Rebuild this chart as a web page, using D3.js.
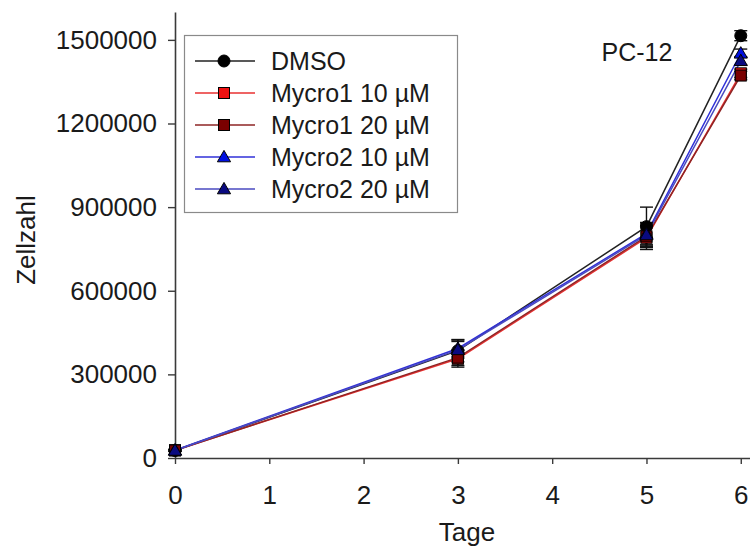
<!DOCTYPE html>
<html>
<head>
<meta charset="utf-8">
<script src="https://cdn.jsdelivr.net/npm/d3@7"></script>
<style>
  html, body { margin: 0; padding: 0; background: #fff; }
  svg { display: block; font-family: "Liberation Sans", Arial, sans-serif; }
</style>
</head>
<body>
<svg id="chart" width="750" height="549"></svg>
<script>
// Days of culture
const days = [0, 3, 5, 6];

// Cell counts per condition (mean) and standard deviation
const dmso      = [27000, 385000, 830000, 1515000];
const dmsoErr   = [3000, 40000, 70000, 18000];
const m1c10     = [28000, 356000, 790000, 1380000];
const m1c10Err  = [3000, 30000, 42000, 15000];
const m1c20     = [27000, 360000, 795000, 1372000];
const m1c20Err  = [3000, 28000, 40000, 15000];
const m2c10     = [28000, 393000, 805000, 1452000];
const m2c10Err  = [3000, 30000, 40000, 15000];
const m2c20     = [27000, 388000, 800000, 1425000];
const m2c20Err  = [3000, 30000, 40000, 15000];

const seriesNames = ["DMSO", "Mycro1 10 µM", "Mycro1 20 µM", "Mycro2 10 µM", "Mycro2 20 µM"];
const yTicks = [0, 300000, 600000, 900000, 1200000, 1500000];
const xTicks = [0, 1, 2, 3, 4, 5, 6];

const series = [
  { name: seriesNames[0], values: dmso,  err: dmsoErr,  line: "#222222", fill: "#000000", shape: "circle" },
  { name: seriesNames[1], values: m1c10, err: m1c10Err, line: "#e83030", fill: "#ee1111", shape: "square" },
  { name: seriesNames[2], values: m1c20, err: m1c20Err, line: "#8e2424", fill: "#7a0000", shape: "square" },
  { name: seriesNames[3], values: m2c10, err: m2c10Err, line: "#3030d8", fill: "#0010e0", shape: "triangle" },
  { name: seriesNames[4], values: m2c20, err: m2c20Err, line: "#4a4ac0", fill: "#0a0a80", shape: "triangle" }
];

const svg = d3.select("#chart");

const x = d3.scaleLinear().domain([0, 6.1]).range([175, 750.2]);
const y = d3.scaleLinear().domain([0, 1600000]).range([458, 12]);

// Axes
const axisColor = "#3a3a3a";
const xAxis = svg.append("g")
  .attr("transform", `translate(0,${y(0)})`)
  .call(d3.axisBottom(x).tickValues(xTicks).tickSize(6).tickSizeOuter(0).tickPadding(22).tickFormat(d3.format("d")));
const yAxis = svg.append("g")
  .attr("transform", `translate(${x(0)},0)`)
  .call(d3.axisLeft(y).tickValues(yTicks).tickSize(7).tickSizeOuter(0).tickPadding(11).tickFormat(d3.format("d")));

[xAxis, yAxis].forEach(g => {
  g.select(".domain").attr("stroke", axisColor).attr("stroke-width", 1.6);
  g.selectAll(".tick line").attr("stroke", axisColor).attr("stroke-width", 1.4);
  g.selectAll(".tick text").attr("fill", "#1a1a1a").style("font-size", "26px");
});
xAxis.selectAll(".tick text").attr("dy", "0.71em");

// Axis titles
svg.append("text")
  .attr("x", 467).attr("y", 541)
  .attr("text-anchor", "middle")
  .attr("fill", "#1a1a1a")
  .style("font-size", "26px")
  .text("Tage");

svg.append("text")
  .attr("transform", "translate(35,240) rotate(-90)")
  .attr("text-anchor", "middle")
  .attr("fill", "#1a1a1a")
  .style("font-size", "26px")
  .text("Zellzahl");

// Panel label
svg.append("text")
  .attr("x", 637).attr("y", 61)
  .attr("text-anchor", "middle")
  .attr("fill", "#1a1a1a")
  .style("font-size", "25px")
  .text("PC-12");

// Marker drawing helper
function drawMarker(g, shape, cx, cy, fill) {
  if (shape === "circle") {
    g.append("circle").attr("cx", cx).attr("cy", cy).attr("r", 6)
      .attr("fill", fill).attr("stroke", "#000").attr("stroke-width", 1);
  } else if (shape === "square") {
    g.append("rect").attr("x", cx - 5.5).attr("y", cy - 5.5).attr("width", 11).attr("height", 11)
      .attr("fill", fill).attr("stroke", "#000").attr("stroke-width", 1);
  } else {
    const s = d3.symbol().type(d3.symbolTriangle).size(75);
    g.append("path").attr("d", s()).attr("transform", `translate(${cx},${cy + 1})`)
      .attr("fill", fill).attr("stroke", "#000").attr("stroke-width", 1);
  }
}

const line = d3.line().x((d, i) => x(days[i])).y(d => y(d));
const plot = svg.append("g");

// Lines first, then error bars and markers
series.forEach(s => {
  plot.append("path").datum(s.values)
    .attr("d", line)
    .attr("fill", "none")
    .attr("stroke", s.line)
    .attr("stroke-width", 1.5);
});

series.forEach(s => {
  const g = plot.append("g");
  s.values.forEach((v, i) => {
    const cx = x(days[i]);
    const top = y(v + s.err[i]);
    const bot = y(v - s.err[i]);
    g.append("line").attr("x1", cx).attr("x2", cx).attr("y1", top).attr("y2", bot)
      .attr("stroke", "#111").attr("stroke-width", 1.4);
    [top, bot].forEach(yy => g.append("line")
      .attr("x1", cx - 6.5).attr("x2", cx + 6.5).attr("y1", yy).attr("y2", yy)
      .attr("stroke", "#111").attr("stroke-width", 1.4));
  });
});

series.forEach(s => {
  const g = plot.append("g");
  s.values.forEach((v, i) => drawMarker(g, s.shape, x(days[i]), y(v), s.fill));
});

// Legend
const legend = svg.append("g");
legend.append("rect")
  .attr("x", 184.5).attr("y", 35.5).attr("width", 273).attr("height", 177)
  .attr("fill", "#fff").attr("stroke", "#8a8a8a").attr("stroke-width", 1.2);

series.forEach((s, i) => {
  const ly = 61 + i * 32;
  legend.append("line").attr("x1", 195).attr("x2", 255).attr("y1", ly).attr("y2", ly)
    .attr("stroke", s.line).attr("stroke-width", 1.5);
  drawMarker(legend, s.shape, 224, ly, s.fill);
  legend.append("text")
    .attr("x", 271).attr("y", ly).attr("dy", "0.36em")
    .attr("fill", "#1a1a1a")
    .style("font-size", "25px")
    .text(s.name);
});
</script>
</body>
</html>
